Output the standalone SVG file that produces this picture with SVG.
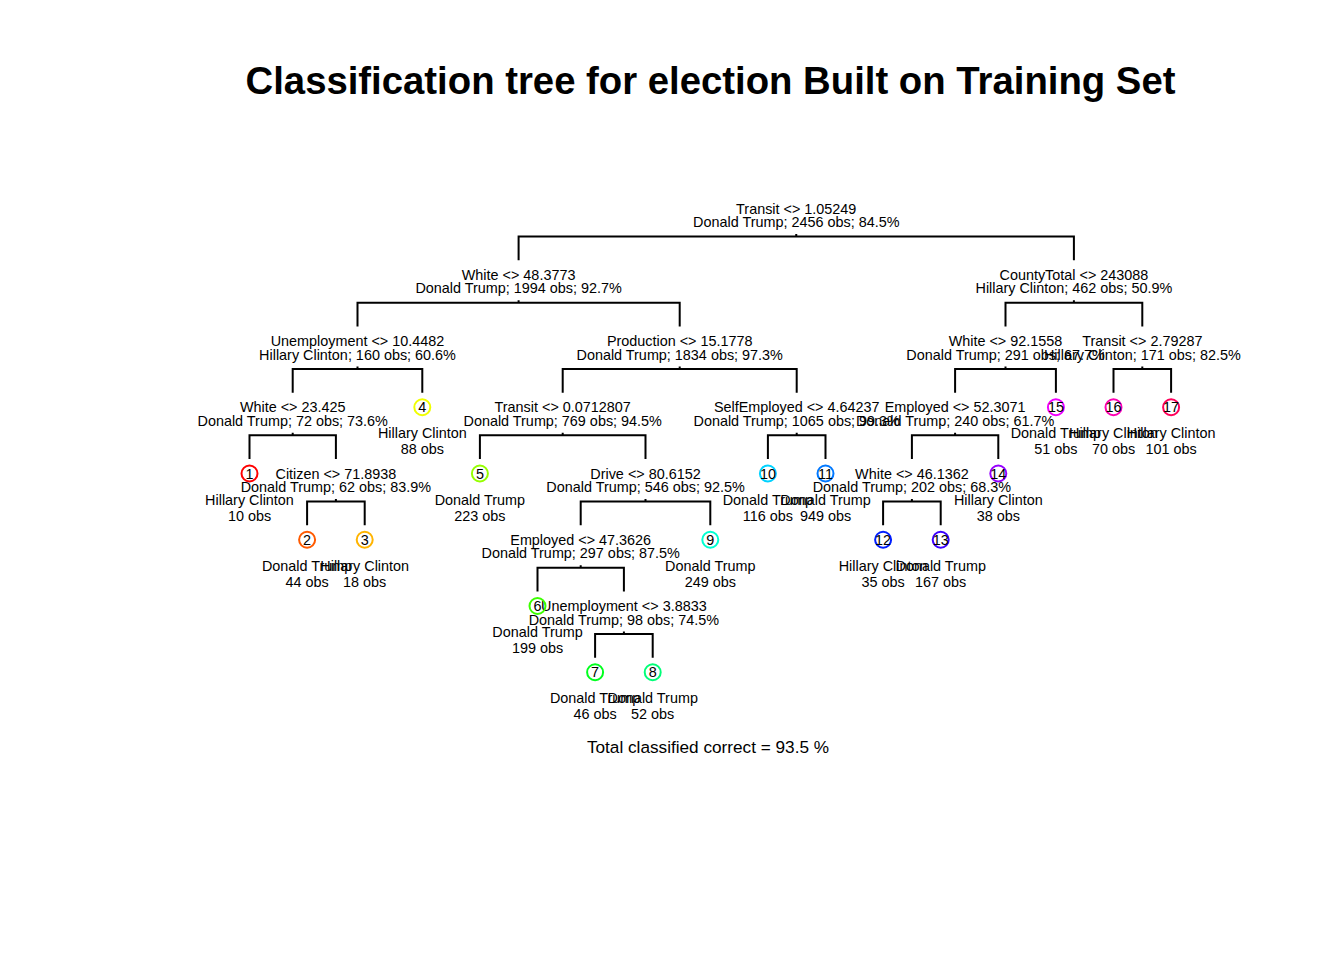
<svg xmlns="http://www.w3.org/2000/svg" width="1344" height="960" viewBox="0 0 1344 960">
<style>
text{font-family:"Liberation Sans",Arial,Helvetica,sans-serif;fill:#000;text-anchor:middle}
.t{font-size:14.4px}
.title{font-size:38.3px;font-weight:bold}
.foot{font-size:17.2px}
.ln{fill:none;stroke:#000;stroke-width:2;stroke-linejoin:miter}
.c{fill:none;stroke-width:2}
</style>
<rect width="1344" height="960" fill="#fff"/>
<text class="title" x="710.5" y="94">Classification tree for election Built on Training Set</text>
<g id="connectors" class="ln">
<path d="M518.6 260.25V236.5H1073.9V260.25M796.25 234V236.5"/>
<path d="M357.5 326.5V302.75H679.7V326.5M518.6 300.25V302.75"/>
<path d="M1005.5 326.5V302.75H1142.3V326.5M1073.9 300.25V302.75"/>
<path d="M292.7 392.75V369H422.3V392.75M357.5 366.5V369"/>
<path d="M562.7 392.75V369H796.7V392.75M679.7 366.5V369"/>
<path d="M955.1 392.75V369H1055.9V392.75M1005.5 366.5V369"/>
<path d="M1113.5 392.75V369H1171.1V392.75M1142.3 366.5V369"/>
<path d="M249.5 459V435.25H335.9V459M292.7 432.75V435.25"/>
<path d="M479.9 459V435.25H645.5V459M562.7 432.75V435.25"/>
<path d="M767.9 459V435.25H825.5V459M796.7 432.75V435.25"/>
<path d="M911.9 459V435.25H998.3V459M955.1 432.75V435.25"/>
<path d="M307.1 525.25V501.5H364.7V525.25M335.9 499V501.5"/>
<path d="M580.7 525.25V501.5H710.3V525.25M645.5 499V501.5"/>
<path d="M883.1 525.25V501.5H940.7V525.25M911.9 499V501.5"/>
<path d="M537.5 591.5V567.75H623.9V591.5M580.7 565.25V567.75"/>
<path d="M595.1 657.75V634H652.7V657.75M623.9 631.5V634"/>
</g>
<g id="n-root" class="t"><text x="796.25" y="213.5">Transit &lt;&gt; 1.05249</text><text x="796.25" y="227">Donald Trump; 2456 obs; 84.5%</text></g>
<g id="n-white48" class="t"><text x="518.6" y="279.75">White &lt;&gt; 48.3773</text><text x="518.6" y="293.25">Donald Trump; 1994 obs; 92.7%</text></g>
<g id="n-county" class="t"><text x="1073.9" y="279.75">CountyTotal &lt;&gt; 243088</text><text x="1073.9" y="293.25">Hillary Clinton; 462 obs; 50.9%</text></g>
<g id="n-unemp10" class="t"><text x="357.5" y="346">Unemployment &lt;&gt; 10.4482</text><text x="357.5" y="359.5">Hillary Clinton; 160 obs; 60.6%</text></g>
<g id="n-prod" class="t"><text x="679.7" y="346">Production &lt;&gt; 15.1778</text><text x="679.7" y="359.5">Donald Trump; 1834 obs; 97.3%</text></g>
<g id="n-white92" class="t"><text x="1005.5" y="346">White &lt;&gt; 92.1558</text><text x="1005.5" y="359.5">Donald Trump; 291 obs; 67.7%</text></g>
<g id="n-transit279" class="t"><text x="1142.3" y="346">Transit &lt;&gt; 2.79287</text><text x="1142.3" y="359.5">Hillary Clinton; 171 obs; 82.5%</text></g>
<g id="n-white23" class="t"><text x="292.7" y="412.25">White &lt;&gt; 23.425</text><text x="292.7" y="425.75">Donald Trump; 72 obs; 73.6%</text></g>
<g id="n-transit007" class="t"><text x="562.7" y="412.25">Transit &lt;&gt; 0.0712807</text><text x="562.7" y="425.75">Donald Trump; 769 obs; 94.5%</text></g>
<g id="n-selfemp" class="t"><text x="796.7" y="412.25">SelfEmployed &lt;&gt; 4.64237</text><text x="796.7" y="425.75">Donald Trump; 1065 obs; 99.3%</text></g>
<g id="n-employed52" class="t"><text x="955.1" y="412.25">Employed &lt;&gt; 52.3071</text><text x="955.1" y="425.75">Donald Trump; 240 obs; 61.7%</text></g>
<g id="n-citizen" class="t"><text x="335.9" y="478.5">Citizen &lt;&gt; 71.8938</text><text x="335.9" y="492">Donald Trump; 62 obs; 83.9%</text></g>
<g id="n-drive" class="t"><text x="645.5" y="478.5">Drive &lt;&gt; 80.6152</text><text x="645.5" y="492">Donald Trump; 546 obs; 92.5%</text></g>
<g id="n-white46" class="t"><text x="911.9" y="478.5">White &lt;&gt; 46.1362</text><text x="911.9" y="492">Donald Trump; 202 obs; 68.3%</text></g>
<g id="n-employed47" class="t"><text x="580.7" y="544.75">Employed &lt;&gt; 47.3626</text><text x="580.7" y="558.25">Donald Trump; 297 obs; 87.5%</text></g>
<g id="n-unemp388" class="t"><text x="623.9" y="611">Unemployment &lt;&gt; 3.8833</text><text x="623.9" y="624.5">Donald Trump; 98 obs; 74.5%</text></g>
<g id="leaf1" class="t"><circle class="c" cx="249.5" cy="473.5" r="8" stroke="#FF0000"/><text x="249.5" y="478.5">1</text><text x="249.5" y="504.5">Hillary Clinton</text><text x="249.5" y="520.5">10 obs</text></g>
<g id="leaf2" class="t"><circle class="c" cx="307.1" cy="539.75" r="8" stroke="#FF5A00"/><text x="307.1" y="544.75">2</text><text x="307.1" y="570.75">Donald Trump</text><text x="307.1" y="586.75">44 obs</text></g>
<g id="leaf3" class="t"><circle class="c" cx="364.7" cy="539.75" r="8" stroke="#FFB400"/><text x="364.7" y="544.75">3</text><text x="364.7" y="570.75">Hillary Clinton</text><text x="364.7" y="586.75">18 obs</text></g>
<g id="leaf4" class="t"><circle class="c" cx="422.3" cy="407.25" r="8" stroke="#F0FF00"/><text x="422.3" y="412.25">4</text><text x="422.3" y="438.25">Hillary Clinton</text><text x="422.3" y="454.25">88 obs</text></g>
<g id="leaf5" class="t"><circle class="c" cx="479.9" cy="473.5" r="8" stroke="#96FF00"/><text x="479.9" y="478.5">5</text><text x="479.9" y="504.5">Donald Trump</text><text x="479.9" y="520.5">223 obs</text></g>
<g id="leaf6" class="t"><circle class="c" cx="537.5" cy="606" r="8" stroke="#3CFF00"/><text x="537.5" y="611">6</text><text x="537.5" y="637">Donald Trump</text><text x="537.5" y="653">199 obs</text></g>
<g id="leaf7" class="t"><circle class="c" cx="595.1" cy="672.25" r="8" stroke="#00FF1E"/><text x="595.1" y="677.25">7</text><text x="595.1" y="703.25">Donald Trump</text><text x="595.1" y="719.25">46 obs</text></g>
<g id="leaf8" class="t"><circle class="c" cx="652.7" cy="672.25" r="8" stroke="#00FF78"/><text x="652.7" y="677.25">8</text><text x="652.7" y="703.25">Donald Trump</text><text x="652.7" y="719.25">52 obs</text></g>
<g id="leaf9" class="t"><circle class="c" cx="710.3" cy="539.75" r="8" stroke="#00FFD2"/><text x="710.3" y="544.75">9</text><text x="710.3" y="570.75">Donald Trump</text><text x="710.3" y="586.75">249 obs</text></g>
<g id="leaf10" class="t"><circle class="c" cx="767.9" cy="473.5" r="8" stroke="#00D2FF"/><text x="767.9" y="478.5">10</text><text x="767.9" y="504.5">Donald Trump</text><text x="767.9" y="520.5">116 obs</text></g>
<g id="leaf11" class="t"><circle class="c" cx="825.5" cy="473.5" r="8" stroke="#0078FF"/><text x="825.5" y="478.5">11</text><text x="825.5" y="504.5">Donald Trump</text><text x="825.5" y="520.5">949 obs</text></g>
<g id="leaf12" class="t"><circle class="c" cx="883.1" cy="539.75" r="8" stroke="#001EFF"/><text x="883.1" y="544.75">12</text><text x="883.1" y="570.75">Hillary Clinton</text><text x="883.1" y="586.75">35 obs</text></g>
<g id="leaf13" class="t"><circle class="c" cx="940.7" cy="539.75" r="8" stroke="#3C00FF"/><text x="940.7" y="544.75">13</text><text x="940.7" y="570.75">Donald Trump</text><text x="940.7" y="586.75">167 obs</text></g>
<g id="leaf14" class="t"><circle class="c" cx="998.3" cy="473.5" r="8" stroke="#9600FF"/><text x="998.3" y="478.5">14</text><text x="998.3" y="504.5">Hillary Clinton</text><text x="998.3" y="520.5">38 obs</text></g>
<g id="leaf15" class="t"><circle class="c" cx="1055.9" cy="407.25" r="8" stroke="#F000FF"/><text x="1055.9" y="412.25">15</text><text x="1055.9" y="438.25">Donald Trump</text><text x="1055.9" y="454.25">51 obs</text></g>
<g id="leaf16" class="t"><circle class="c" cx="1113.5" cy="407.25" r="8" stroke="#FF00B4"/><text x="1113.5" y="412.25">16</text><text x="1113.5" y="438.25">Hillary Clinton</text><text x="1113.5" y="454.25">70 obs</text></g>
<g id="leaf17" class="t"><circle class="c" cx="1171.1" cy="407.25" r="8" stroke="#FF005A"/><text x="1171.1" y="412.25">17</text><text x="1171.1" y="438.25">Hillary Clinton</text><text x="1171.1" y="454.25">101 obs</text></g>
<text class="foot" x="708" y="753">Total classified correct = 93.5 %</text>
</svg>
